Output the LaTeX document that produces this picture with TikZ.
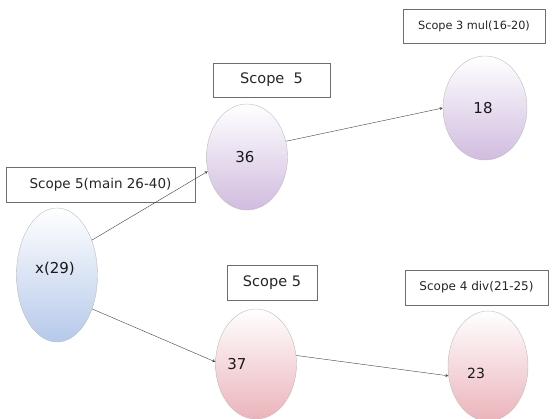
\documentclass[tikz,border=0pt]{standalone}
\usepackage{fontspec}
\setmainfont{DejaVu Sans}
\usetikzlibrary{positioning,shapes.geometric,arrows}

\definecolor{bluebot}{HTML}{B6C9EA}
\definecolor{lilacbot}{HTML}{D0BCDF}
\definecolor{pinkbot}{HTML}{EBB4BB}
\definecolor{rimgray}{HTML}{BDBDBD}
\definecolor{boxgray}{HTML}{6E6E6E}

\begin{document}
\begin{tikzpicture}[x=1pt, y=-1pt, >=stealth,
  var/.style={ellipse, draw=rimgray, thin, minimum width=81pt, inner sep=0pt,
    text=black!90, font=\fontsize{15}{17}\selectfont},
  scopebox/.style={draw=boxgray, thin, fill=white, inner sep=0pt,
    text=black!85},
  link/.style={->, draw=black!75, thin}]
\useasboundingbox (0,0) rectangle (560,419);

% scope labels
\node[scopebox, minimum width=189pt, minimum height=35pt, font=\fontsize{13.5}{15}\selectfont] (s5main) at (100.5,184.5) {Scope 5(main 26-40)};
\node[scopebox, minimum width=117pt, minimum height=34pt, font=\fontsize{14.5}{16}\selectfont] (s5a) at (271.5,80) {Scope\ \ 5};
\node[scopebox, minimum width=142pt, minimum height=34pt, font=\fontsize{11.3}{13}\selectfont] (s3) at (474,26) {Scope 3 mul(16-20)};
\node[scopebox, minimum width=90pt, minimum height=35pt, font=\fontsize{14.5}{16}\selectfont] (s5b) at (272,282.5) {Scope 5};
\node[scopebox, minimum width=143pt, minimum height=35pt, font=\fontsize{12}{14}\selectfont] (s4) at (476.5,287.5) {Scope 4 div(21-25)};

% variables
\node[var, minimum height=134pt, top color=white, bottom color=bluebot] (x29) at (57,275) {\raisebox{6pt}[\height][\depth]{x(29)}\kern4pt};
\node[var, minimum height=106pt, top color=white, bottom color=lilacbot] (36) at (247,157) {36\kern4pt};
\node[var, minimum width=84pt, minimum height=104pt, top color=white, bottom color=lilacbot] (18) at (485,108) {18\kern4pt};
\node[var, minimum height=110pt, top color=white, bottom color=pinkbot] (37) at (256,364) {37\kern38pt};
\node[var, minimum width=80pt, minimum height=110pt, top color=white, bottom color=pinkbot, font=\fontsize{14}{16}\selectfont] (23) at (488,366) {\raisebox{-7pt}[\height][\depth]{23}\kern24pt};

\draw[link] (x29.45) -- (36.200);
\draw[link] (x29.316) -- (37.177);
\draw[link] (36.22) -- (18.180);
\draw[link] (37.12) -- (23.194);
\end{tikzpicture}
\end{document}
